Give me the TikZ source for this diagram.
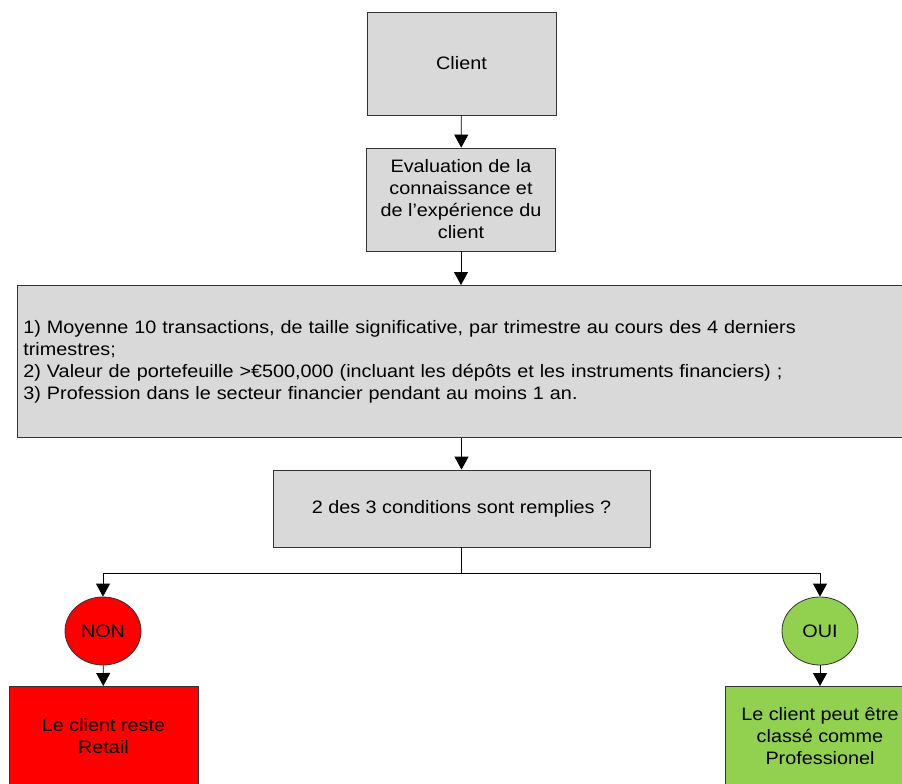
\documentclass[tikz,border=0pt]{standalone}
\usepackage{fontspec}
\setmainfont{Liberation Sans}[FakeStretch=1.1]
\usetikzlibrary{arrows.meta,positioning,shapes.geometric}
\definecolor{boxgray}{HTML}{D9D9D9}
\definecolor{nonred}{HTML}{FF0000}
\definecolor{ouigreen}{HTML}{92D050}
\tikzset{
  etape/.style={draw=black!80, fill=boxgray, minimum width=189pt, minimum height=103pt, align=center, inner sep=3pt},
  rond/.style={draw=black!80, ellipse, minimum width=76pt, minimum height=68pt, inner sep=0pt},
  issue/.style={draw=black!80, minimum width=189pt, minimum height=100pt, align=center, anchor=north},
}
\begin{document}
\begin{tikzpicture}[x=1pt,y=-1pt,>={Triangle[width=14pt,length=13pt]},line width=.8pt,
    font=\fontsize{18}{22}\selectfont]
\useasboundingbox (0,0) rectangle (902,784);
\clip (0,0) rectangle (902,784);
% boites
\node[etape] (client) at (461.5,63.5) {Client};
\node[etape] (eval) at (461,199.5) {Evaluation de la\\connaissance et\\de l’expérience du\\client};
\node[etape, anchor=north west, minimum width=905pt, minimum height=152pt, text width=893pt,
      align=left, inner xsep=5pt] (criteres) at (17,285)
  {1) Moyenne 10 transactions, de taille significative, par trimestre au cours des 4 derniers\\
   trimestres;\\
   2) Valeur de portefeuille >€500,000 (incluant les dépôts et les instruments financiers) ;\\
   3) Profession dans le secteur financier pendant au moins 1 an.};
\node[etape, minimum width=377pt, minimum height=77pt] (cond) at (461.5,508.5) {2 des 3 conditions sont remplies ?};
\node[rond, fill=nonred] (non) at (103,631) {NON};
\node[rond, fill=ouigreen] (oui) at (820,631) {OUI};
\node[issue, fill=nonred] (retail) at (103.5,686) {Le client reste\\Retail};
\node[issue, fill=ouigreen] (pro) at (820,686) {Le client peut être\\classé comme\\Professionel};
% fleches
\draw[->] (client) -- (eval);
\draw[->] (eval.south) -- (eval.south |- criteres.north);
\draw[->] (cond.north |- criteres.south) -- (cond.north);
\draw (cond.south) -- ++(0,26) coordinate (fourche);
\draw[->] (fourche) -| (non.north);
\draw[->] (fourche) -| (oui.north);
\draw[->] (non) -- (retail);
\draw[->] (oui) -- (pro);
\end{tikzpicture}
\end{document}
